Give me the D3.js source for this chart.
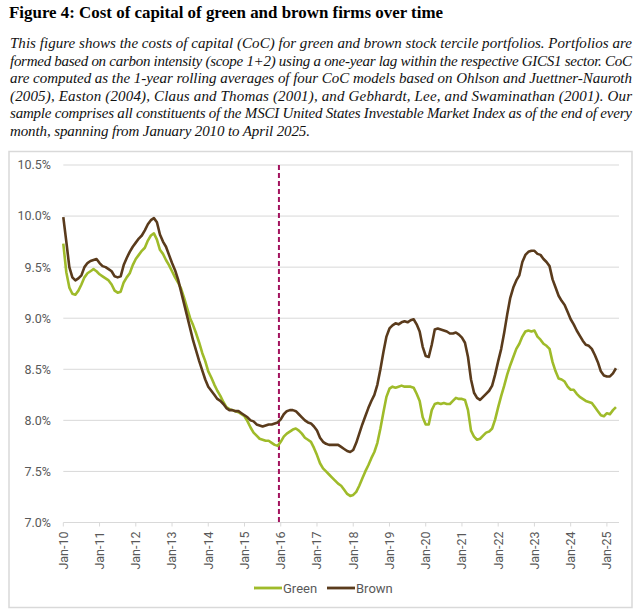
<!DOCTYPE html>
<html><head><meta charset="utf-8">
<script src="https://cdn.jsdelivr.net/npm/d3@7/dist/d3.min.js"></script>
<style>
html,body{margin:0;padding:0;background:#fff;}
svg{display:block;}
</style></head>
<body>
<svg id="chart" width="640" height="616"></svg>
<script>
const titleText = "Figure 4: Cost of capital of green and brown firms over time";
const captionLines = [
  "This figure shows the costs of capital (CoC) for green and brown stock tercile portfolios. Portfolios are",
  "formed based on carbon intensity (scope 1+2) using a one-year lag within the respective GICS1 sector. CoC",
  "are computed as the 1-year rolling averages of four CoC models based on Ohlson and Juettner-Nauroth",
  "(2005), Easton (2004), Claus and Thomas (2001), and Gebhardt, Lee, and Swaminathan (2001). Our",
  "sample comprises all constituents of the MSCI United States Investable Market Index as of the end of every",
  "month, spanning from January 2010 to April 2025."
];

// monthly, Jan 2010 .. Apr 2025 (184 months), in percent
const brown = [
  9.99,9.75,9.50,9.40,9.37,9.39,9.42,9.50,9.54,9.56,9.57,9.58,
  9.54,9.51,9.50,9.48,9.46,9.41,9.40,9.41,9.52,9.59,9.65,9.70,
  9.74,9.78,9.81,9.86,9.92,9.96,9.98,9.94,9.82,9.75,9.70,9.62,
  9.54,9.47,9.38,9.26,9.14,9.02,8.90,8.78,8.68,8.58,8.49,8.40,
  8.33,8.29,8.25,8.21,8.19,8.16,8.12,8.10,8.10,8.09,8.09,8.07,
  8.05,8.03,8.00,7.99,7.96,7.95,7.94,7.95,7.96,7.96,7.97,7.98,
  8.01,8.06,8.09,8.10,8.10,8.09,8.06,8.03,8.00,7.98,7.97,7.94,
  7.90,7.83,7.79,7.77,7.76,7.76,7.76,7.76,7.74,7.72,7.70,7.69,
  7.71,7.78,7.87,7.96,8.04,8.12,8.19,8.25,8.35,8.50,8.67,8.82,
  8.90,8.93,8.95,8.94,8.96,8.97,8.96,8.98,8.99,8.94,8.87,8.72,
  8.63,8.62,8.74,8.89,8.90,8.89,8.88,8.87,8.85,8.85,8.86,8.84,
  8.81,8.76,8.62,8.40,8.27,8.22,8.20,8.23,8.26,8.29,8.34,8.45,
  8.58,8.70,8.86,9.04,9.20,9.30,9.37,9.42,9.55,9.62,9.65,9.66,
  9.66,9.63,9.62,9.58,9.55,9.51,9.38,9.30,9.22,9.17,9.13,9.06,
  8.99,8.94,8.88,8.83,8.78,8.74,8.73,8.70,8.64,8.57,8.48,8.44,
  8.43,8.43,8.46,8.51
];
const green = [
  9.73,9.45,9.30,9.24,9.23,9.27,9.33,9.40,9.44,9.46,9.48,9.46,
  9.43,9.41,9.39,9.37,9.33,9.27,9.25,9.26,9.35,9.40,9.44,9.52,
  9.58,9.62,9.66,9.69,9.76,9.81,9.83,9.77,9.67,9.63,9.57,9.52,
  9.46,9.40,9.35,9.29,9.20,9.10,9.00,8.93,8.85,8.76,8.66,8.58,
  8.48,8.42,8.35,8.29,8.24,8.18,8.13,8.11,8.10,8.09,8.08,8.06,
  8.04,7.99,7.93,7.88,7.85,7.82,7.81,7.80,7.80,7.78,7.76,7.75,
  7.79,7.84,7.87,7.89,7.91,7.92,7.90,7.87,7.83,7.81,7.79,7.73,
  7.66,7.58,7.53,7.50,7.47,7.44,7.41,7.38,7.36,7.32,7.28,7.26,
  7.27,7.30,7.36,7.43,7.50,7.56,7.63,7.69,7.78,7.92,8.08,8.23,
  8.31,8.33,8.32,8.33,8.34,8.33,8.33,8.33,8.32,8.26,8.19,8.03,
  7.96,7.96,8.10,8.16,8.17,8.16,8.17,8.16,8.16,8.19,8.22,8.21,
  8.21,8.20,8.10,7.90,7.84,7.81,7.82,7.85,7.88,7.89,7.92,8.01,
  8.13,8.24,8.34,8.45,8.54,8.62,8.70,8.75,8.82,8.87,8.88,8.87,
  8.88,8.82,8.79,8.75,8.73,8.70,8.57,8.48,8.41,8.40,8.38,8.33,
  8.30,8.30,8.26,8.23,8.21,8.19,8.18,8.17,8.13,8.09,8.05,8.04,
  8.07,8.06,8.10,8.13
];
const xTickLabels = ["Jan-10","Jan-11","Jan-12","Jan-13","Jan-14","Jan-15","Jan-16","Jan-17","Jan-18","Jan-19","Jan-20","Jan-21","Jan-22","Jan-23","Jan-24","Jan-25"];
const yTicks = [7.0,7.5,8.0,8.5,9.0,9.5,10.0,10.5];
const eventMonth = 71.4; // December 2015
const seriesNames = ["Green","Brown"];
const colors = {Green:"#9fbb2a", Brown:"#5a3b1c"};

const svg = d3.select("#chart");

// title & caption
svg.append("text").attr("x",9).attr("y",17.5)
  .attr("font-family","'Liberation Serif', serif").attr("font-weight","bold")
  .attr("font-size",16.5).attr("fill","#000")
  .attr("textLength",434).attr("lengthAdjust","spacingAndGlyphs").text(titleText);

const capY = [48,65.5,83,100.5,118,135.5];
captionLines.forEach((t,i)=>{
  const last = i===captionLines.length-1;
  svg.append("text").attr("x",10).attr("y",capY[i])
    .attr("font-family","'Liberation Serif', serif").attr("font-style","italic")
    .attr("font-size",15).attr("fill","#111")
    .attr("textLength", last ? 300 : 622).attr("lengthAdjust","spacing").text(t);
});

// chart frame
svg.append("rect").attr("x",9).attr("y",151.5).attr("width",623).attr("height",456)
  .attr("fill","#fff").attr("stroke","#d9d9d9").attr("stroke-width",1.5);

const x = d3.scaleLinear().domain([0,184]).range([63.3,619]);
const y = d3.scaleLinear().domain([7.0,10.5]).range([522.5,165]);

// gridlines
svg.append("g").selectAll("line").data(yTicks).join("line")
  .attr("x1",x(0)).attr("x2",x(184)).attr("y1",d=>y(d)).attr("y2",d=>y(d))
  .attr("stroke","#d9d9d9").attr("stroke-width",1);

// y labels
svg.append("g").selectAll("text").data(yTicks).join("text")
  .attr("x",51).attr("y",d=>y(d)).attr("dy","0.35em").attr("text-anchor","end")
  .attr("font-family","Roboto, sans-serif").attr("font-size",12.5).attr("fill","#595959")
  .text(d=>d3.format(".1f")(d)+"%");

// x axis ticks
const xTickIdx = xTickLabels.map((d,i)=>i*12);
const xg = svg.append("g");
xg.selectAll("line").data(xTickIdx).join("line")
  .attr("x1",d=>x(d)).attr("x2",d=>x(d)).attr("y1",y(7.0)).attr("y2",y(7.0)+4)
  .attr("stroke","#d9d9d9").attr("stroke-width",1);
xg.selectAll("text").data(xTickLabels).join("text")
  .attr("transform",(d,i)=>`translate(${x(i*12)},${y(7.0)+9}) rotate(-90)`)
  .attr("dy","0.35em").attr("text-anchor","end")
  .attr("font-family","Roboto, sans-serif").attr("font-size",12.5).attr("fill","#595959")
  .text(d=>d);

// event line
svg.append("line").attr("x1",x(eventMonth)).attr("x2",x(eventMonth))
  .attr("y1",y(10.5)).attr("y2",y(7.0))
  .attr("stroke","#a3135e").attr("stroke-width",2).attr("stroke-dasharray","5,3");

// series lines
const line = d3.line().x((d,i)=>x(i)).y(d=>y(d));
svg.append("path").datum(green).attr("d",line).attr("fill","none")
  .attr("stroke",colors.Green).attr("stroke-width",2.6).attr("stroke-linejoin","round");
svg.append("path").datum(brown).attr("d",line).attr("fill","none")
  .attr("stroke",colors.Brown).attr("stroke-width",2.6).attr("stroke-linejoin","round");

// legend
const legX = [254,327];
const lg = svg.append("g");
seriesNames.forEach((n,i)=>{
  lg.append("line").attr("x1",legX[i]).attr("x2",legX[i]+28).attr("y1",588).attr("y2",588)
    .attr("stroke",colors[n]).attr("stroke-width",2.8);
  lg.append("text").attr("x",legX[i]+29).attr("y",588).attr("dy","0.35em")
    .attr("font-family","Roboto, sans-serif").attr("font-size",13).attr("fill","#595959")
    .text(n);
});
</script>
</body></html>
